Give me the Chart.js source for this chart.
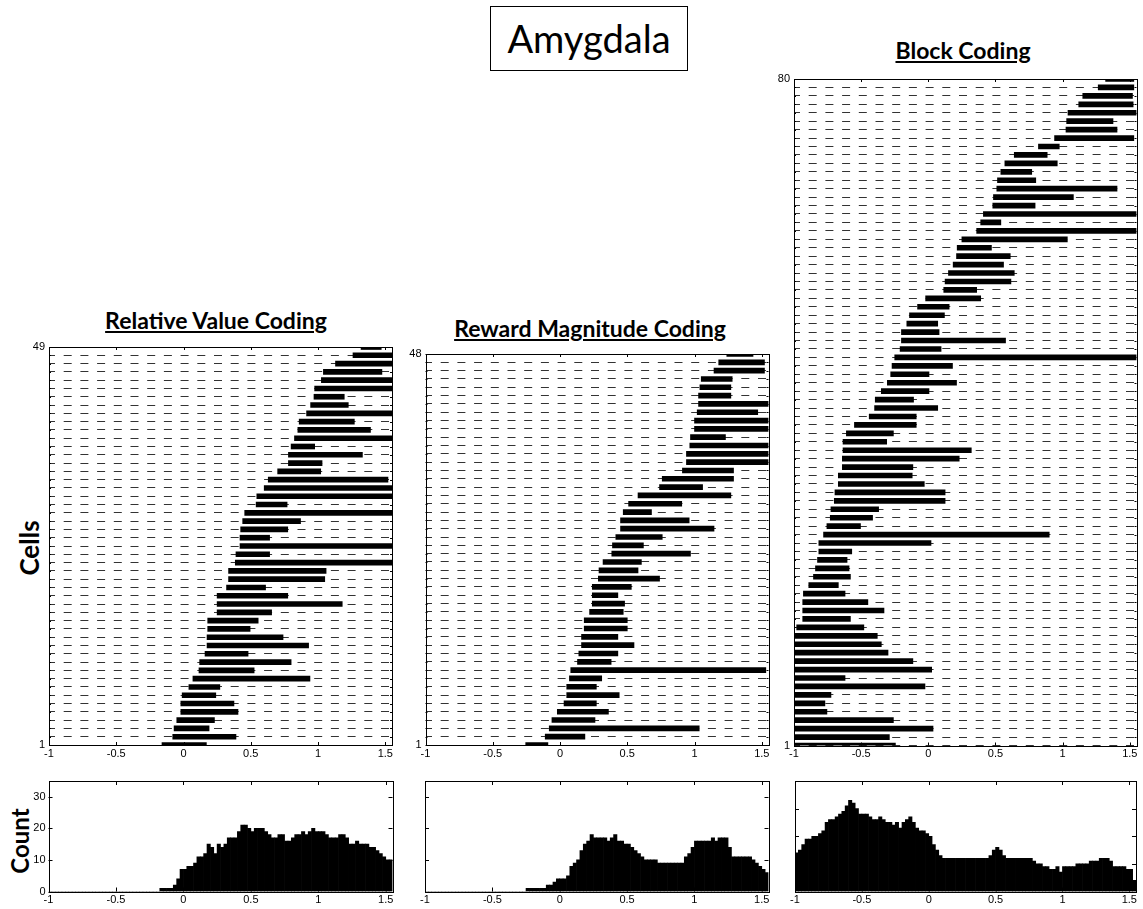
<!DOCTYPE html>
<html>
<head>
<meta charset="utf-8">
<title>Amygdala</title>
<script src="https://cdn.jsdelivr.net/npm/chart.js@4/dist/chart.umd.min.js"></script>
<style>
  body { margin: 0; background: #fff; }
  #page { position: relative; width: 1143px; height: 909px; overflow: hidden; font-family: Lato, "Open Sans", sans-serif; }
  .panel { position: absolute; }
  #title { position: absolute; left: 490px; top: 6px; width: 196px; height: 63px; border: 1px solid #000;
           font-size: 38px; line-height: 63px; text-align: center; }
  .head { position: absolute; transform: translate(-50%, -50%); font-weight: bold; font-size: 23px;
          text-decoration: underline; white-space: nowrap; }
  .ylab { position: absolute; transform: translate(-50%, -50%) rotate(-90deg); font-weight: bold; white-space: nowrap; }
</style>
</head>
<body>
<div id="page">
  <div id="title">Amygdala</div>
  <div class="head" style="left:216px;top:320px">Relative Value Coding</div>
  <div class="head" style="left:590px;top:328px">Reward Magnitude Coding</div>
  <div class="head" style="left:963px;top:50px">Block Coding</div>
  <div class="ylab" style="left:29px;top:548px;font-size:26px">Cells</div>
  <div class="ylab" style="left:19px;top:841px;font-size:24px">Count</div>

  <div class="panel" style="left:0;top:330px"><canvas id="relRaster" width="400" height="430"></canvas></div>
  <div class="panel" style="left:395px;top:330px"><canvas id="rewRaster" width="380" height="430"></canvas></div>
  <div class="panel" style="left:770px;top:60px"><canvas id="blkRaster" width="373" height="700"></canvas></div>
  <div class="panel" style="left:0;top:770px"><canvas id="relHist" width="400" height="139"></canvas></div>
  <div class="panel" style="left:400px;top:770px"><canvas id="rewHist" width="375" height="139"></canvas></div>
  <div class="panel" style="left:775px;top:770px"><canvas id="blkHist" width="368" height="139"></canvas></div>
</div>

<script>
// time axis (s)
var xMin = -1, xMax = 1.55;

// coding windows per cell, cell 1 first (bottom row)
var relStart = [-0.16, -0.08, -0.07, -0.05, -0.02, -0.02, -0.01, 0.04, 0.07, 0.115,
                0.12, 0.16, 0.175, 0.175, 0.18, 0.18, 0.25, 0.25, 0.25, 0.32,
                0.335, 0.335, 0.385, 0.39, 0.42, 0.42, 0.425, 0.44, 0.455, 0.54,
                0.545, 0.60, 0.63, 0.70, 0.78, 0.78, 0.80, 0.825, 0.85, 0.86,
                0.915, 0.945, 0.97, 0.975, 1.025, 1.04, 1.13, 1.26, 1.32];
var relEnd   = [0.17, 0.39, 0.19, 0.23, 0.405, 0.375, 0.24, 0.27, 0.94, 0.525,
                0.80, 0.48, 0.93, 0.74, 0.495, 0.555, 0.655, 1.18, 0.775, 0.61,
                1.05, 1.06, 1.55, 0.64, 1.55, 0.64, 0.775, 0.87, 1.55, 0.77,
                1.55, 1.55, 1.52, 1.02, 1.03, 1.33, 0.975, 1.55, 1.39, 1.27,
                1.55, 1.225, 1.195, 1.55, 1.55, 1.475, 1.55, 1.55, 1.47];

var rewStart = [-0.255, -0.11, -0.08, -0.06, -0.02, 0.03, 0.05, 0.05, 0.07, 0.08,
                0.13, 0.14, 0.16, 0.16, 0.18, 0.18, 0.22, 0.24, 0.24, 0.24,
                0.285, 0.29, 0.32, 0.385, 0.39, 0.415, 0.45, 0.45, 0.47, 0.51,
                0.58, 0.74, 0.76, 0.91, 0.94, 0.94, 0.965, 0.97, 1.0, 1.0,
                1.02, 1.03, 1.03, 1.04, 1.05, 1.145, 1.18, 1.24];
var rewEnd   = [-0.09, 0.185, 1.035, 0.26, 0.36, 0.27, 0.44, 0.27, 0.31, 1.53,
                0.38, 0.43, 0.55, 0.43, 0.50, 0.50, 0.47, 0.48, 0.43, 0.53,
                0.74, 0.58, 0.605, 0.97, 0.62, 0.76, 1.145, 0.96, 0.68, 0.905,
                1.27, 1.06, 1.29, 1.29, 1.55, 1.55, 1.55, 1.23, 1.55, 1.55,
                1.47, 1.55, 1.27, 1.27, 1.28, 1.52, 1.52, 1.435];

var blkStart = [-1, -1, -1, -1, -1, -1, -1, -1, -1, -1,
                -1, -1, -1, -0.99, -0.98, -0.935, -0.935, -0.935, -0.93, -0.89,
                -0.855, -0.84, -0.825, -0.815, -0.815, -0.78, -0.755, -0.73, -0.725, -0.70,
                -0.695, -0.67, -0.67, -0.64, -0.64, -0.635, -0.635, -0.61, -0.55, -0.44,
                -0.40, -0.395, -0.35, -0.305, -0.28, -0.27, -0.25, -0.21, -0.20, -0.20,
                -0.16, -0.14, -0.08, -0.02, 0.115, 0.125, 0.15, 0.185, 0.21, 0.215,
                0.25, 0.36, 0.39, 0.41, 0.48, 0.485, 0.51, 0.515, 0.54, 0.57,
                0.64, 0.82, 0.94, 1.025, 1.03, 1.04, 1.12, 1.15, 1.265, 1.32];
var blkEnd   = [-0.245, -0.29, 0.035, -0.26, -0.755, -0.77, -0.725, -0.025, -0.62, 0.025,
                -0.115, -0.30, -0.35, -0.38, -0.48, -0.58, -0.33, -0.45, -0.62, -0.67,
                -0.58, -0.59, -0.605, -0.57, 0.02, 0.90, -0.505, -0.415, -0.37, 0.125,
                0.125, -0.03, -0.12, -0.115, 0.23, 0.32, -0.31, -0.26, -0.09, -0.09,
                0.07, -0.11, 0.005, 0.21, 0.005, 0.18, 1.55, 0.095, 0.575, 0.08,
                0.07, 0.12, 0.155, 0.39, 0.36, 0.615, 0.64, 0.56, 0.61, 0.47,
                1.035, 1.55, 0.54, 1.55, 0.795, 1.08, 1.405, 0.80, 0.77, 0.96,
                0.885, 0.975, 1.53, 1.405, 1.375, 1.55, 1.525, 1.52, 1.53, 1.53];

// population counts, 0.025 s bins starting at -1 s
var binStart = -1, binWidth = 0.025;
var relCount = [0, 0, 0, 0, 0, 0, 0, 0, 0, 0,
                0, 0, 0, 0, 0, 0, 0, 0, 0, 0,
                0, 0, 0, 0, 0, 0, 0, 0, 0, 0,
                0, 0, 0, 1, 1, 1, 1, 2, 4, 7,
                7, 8, 8, 9, 11, 11, 12, 15, 14, 12,
                15, 14, 15, 17, 17, 17, 19, 21, 21, 20,
                19, 20, 20, 20, 19, 18, 17, 17, 18, 18,
                16, 16, 17, 18, 18, 19, 18, 19, 20, 19,
                19, 19, 18, 17, 17, 17, 18, 18, 17, 15,
                15, 16, 15, 15, 15, 14, 14, 13, 12, 11,
                10, 10];
var rewCount = [0, 0, 0, 0, 0, 0, 0, 0, 0, 0,
                0, 0, 0, 0, 0, 0, 0, 0, 0, 0,
                0, 0, 0, 0, 0, 0, 0, 0, 0, 0,
                1, 1, 1, 1, 1, 1, 2, 2, 3, 4,
                4, 4, 5, 8, 9, 10, 13, 15, 16, 18,
                17, 17, 17, 17, 16, 17, 18, 16, 16, 15,
                15, 14, 13, 12, 11, 10, 10, 10, 10, 9,
                9, 9, 9, 9, 9, 9, 9, 11, 12, 14,
                16, 16, 16, 16, 16, 17, 16, 17, 17, 17,
                14, 11, 11, 11, 11, 11, 11, 10, 9, 8,
                7, 6];
var blkCount = [14, 15, 17, 19, 19, 20, 20, 21, 22, 25,
                26, 26, 27, 28, 29, 31, 33, 32, 30, 28,
                28, 28, 27, 26, 26, 27, 26, 25, 25, 24,
                25, 23, 25, 26, 27, 25, 23, 22, 22, 21,
                20, 17, 15, 13, 12, 12, 12, 12, 12, 12,
                12, 12, 12, 12, 12, 12, 12, 12, 13, 15,
                16, 15, 13, 12, 12, 12, 12, 12, 12, 12,
                12, 11, 10, 10, 9, 9, 8, 8, 9, 7,
                9, 9, 9, 9, 10, 10, 10, 10, 11, 11,
                11, 12, 12, 12, 11, 9, 9, 9, 9, 8,
                8, 4];

Chart.defaults.font.family = '"Liberation Sans", Arial, sans-serif';
Chart.defaults.font.size = 11;
Chart.defaults.color = '#000';

// box around the plot area with MATLAB-style inward ticks
var framePlugin = {
    id: 'frame',
    beforeDatasetsDraw: function (chart, args, opts) {
        var a = chart.chartArea, c = chart.ctx;
        var sx = chart.scales.x, sy = chart.scales.y;
        c.save();
        c.strokeStyle = '#000';
        c.lineWidth = 1;
        c.beginPath();
        sx.ticks.forEach(function (t) {
            var px = Math.round(sx.getPixelForValue(t.value)) + 0.5;
            c.moveTo(px, a.top); c.lineTo(px, a.top + opts.xTick);
            c.moveTo(px, a.bottom); c.lineTo(px, a.bottom - opts.xTick);
        });
        sy.ticks.forEach(function (t) {
            var py = Math.round(sy.getPixelForValue(t.value)) + 0.5;
            c.moveTo(a.left, py); c.lineTo(a.left + opts.yTick, py);
            c.moveTo(a.right, py); c.lineTo(a.right - opts.yTick, py);
        });
        c.stroke();
        c.strokeRect(Math.round(a.left) + 0.5, Math.round(a.top) + 0.5,
                     Math.round(a.right - a.left), Math.round(a.bottom - a.top));
        c.restore();
    }
};

// pin axis sizes so plot areas line up across panels
function fixWidth(w) {
    return function (s) { s.width = w; s.paddingTop = 0; s.paddingBottom = 0; };
}
function fixHeight(h) {
    return function (s) { s.height = h; s.paddingLeft = 0; s.paddingRight = 0; };
}

// plain labels: -1, -0.5, 0, 0.5, 1, 1.5
function plainNumber(v) {
    return String(Math.round(v * 100) / 100);
}

function timeAxis(h) {
    return {
        type: 'linear', min: xMin, max: xMax, offset: false,
        ticks: { stepSize: 0.5, includeBounds: false, autoSkip: false, maxRotation: 0, padding: 2,
                 callback: plainNumber },
        grid: { display: false, drawTicks: false, offset: false },
        border: { display: false },
        afterFit: fixHeight(h)
    };
}

function raster(id, starts, ends, pad, yWidth, xHeight) {
    var nCells = starts.length;
    var cells = starts.map(function (s, i) { return { y: i + 1, x: [s, ends[i]] }; });
    return new Chart(document.getElementById(id), {
        type: 'bar',
        data: { datasets: [{ data: cells, backgroundColor: '#000', borderWidth: 0, barThickness: 5 }] },
        options: {
            indexAxis: 'y',
            responsive: false,
            animation: false,
            layout: { padding: { left: 0, bottom: 0, top: pad.top, right: pad.right } },
            plugins: { legend: { display: false }, tooltip: { enabled: false },
                       frame: { xTick: 3, yTick: 2 } },
            scales: {
                x: timeAxis(xHeight),
                y: {
                    type: 'linear', min: 1, max: nCells, offset: false,
                    ticks: {
                        stepSize: 1, autoSkip: false, padding: 4,
                        callback: function (v) { return (v === 1 || v === nCells) ? String(v) : ''; }
                    },
                    grid: { offset: false, color: '#333', lineWidth: 1, drawTicks: false },
                    border: { display: false, dash: [8, 8.7], dashOffset: 2 },
                    afterFit: fixWidth(yWidth)
                }
            }
        },
        plugins: [framePlugin]
    });
}

function histogram(id, counts, yMax, showLabels, pad, yWidth, xHeight) {
    var bins = counts.map(function (n, i) { return { x: binStart + binWidth * (i + 0.5), y: n }; });
    return new Chart(document.getElementById(id), {
        type: 'bar',
        data: { datasets: [{ data: bins, backgroundColor: '#000', borderWidth: 0,
                             barPercentage: 1, categoryPercentage: 1 }] },
        options: {
            responsive: false,
            animation: false,
            layout: { padding: { left: 0, bottom: 0, top: pad.top, right: pad.right } },
            plugins: { legend: { display: false }, tooltip: { enabled: false },
                       frame: { xTick: 4, yTick: 4 } },
            scales: {
                x: timeAxis(xHeight),
                y: {
                    type: 'linear', min: 0, max: yMax,
                    ticks: { stepSize: 10, includeBounds: false, display: showLabels, padding: 3,
                             callback: plainNumber },
                    grid: { display: false, drawTicks: false },
                    border: { display: false },
                    afterFit: fixWidth(yWidth)
                }
            }
        },
        plugins: [framePlugin]
    });
}

raster('relRaster', relStart, relEnd, { top: 17, right: 8 }, 49, 15);
raster('rewRaster', rewStart, rewEnd, { top: 24, right: 6.5 }, 30.5, 15);
raster('blkRaster', blkStart, blkEnd, { top: 19, right: 6.5 }, 24, 14.5);

histogram('relHist', relCount, 35, true, { top: 11, right: 7.5 }, 48.5, 17.5);
histogram('rewHist', rewCount, 35, false, { top: 11, right: 6.5 }, 25, 17.5);
histogram('blkHist', blkCount, 40, false, { top: 11, right: 7 }, 20, 17.5);
</script>
</body>
</html>
